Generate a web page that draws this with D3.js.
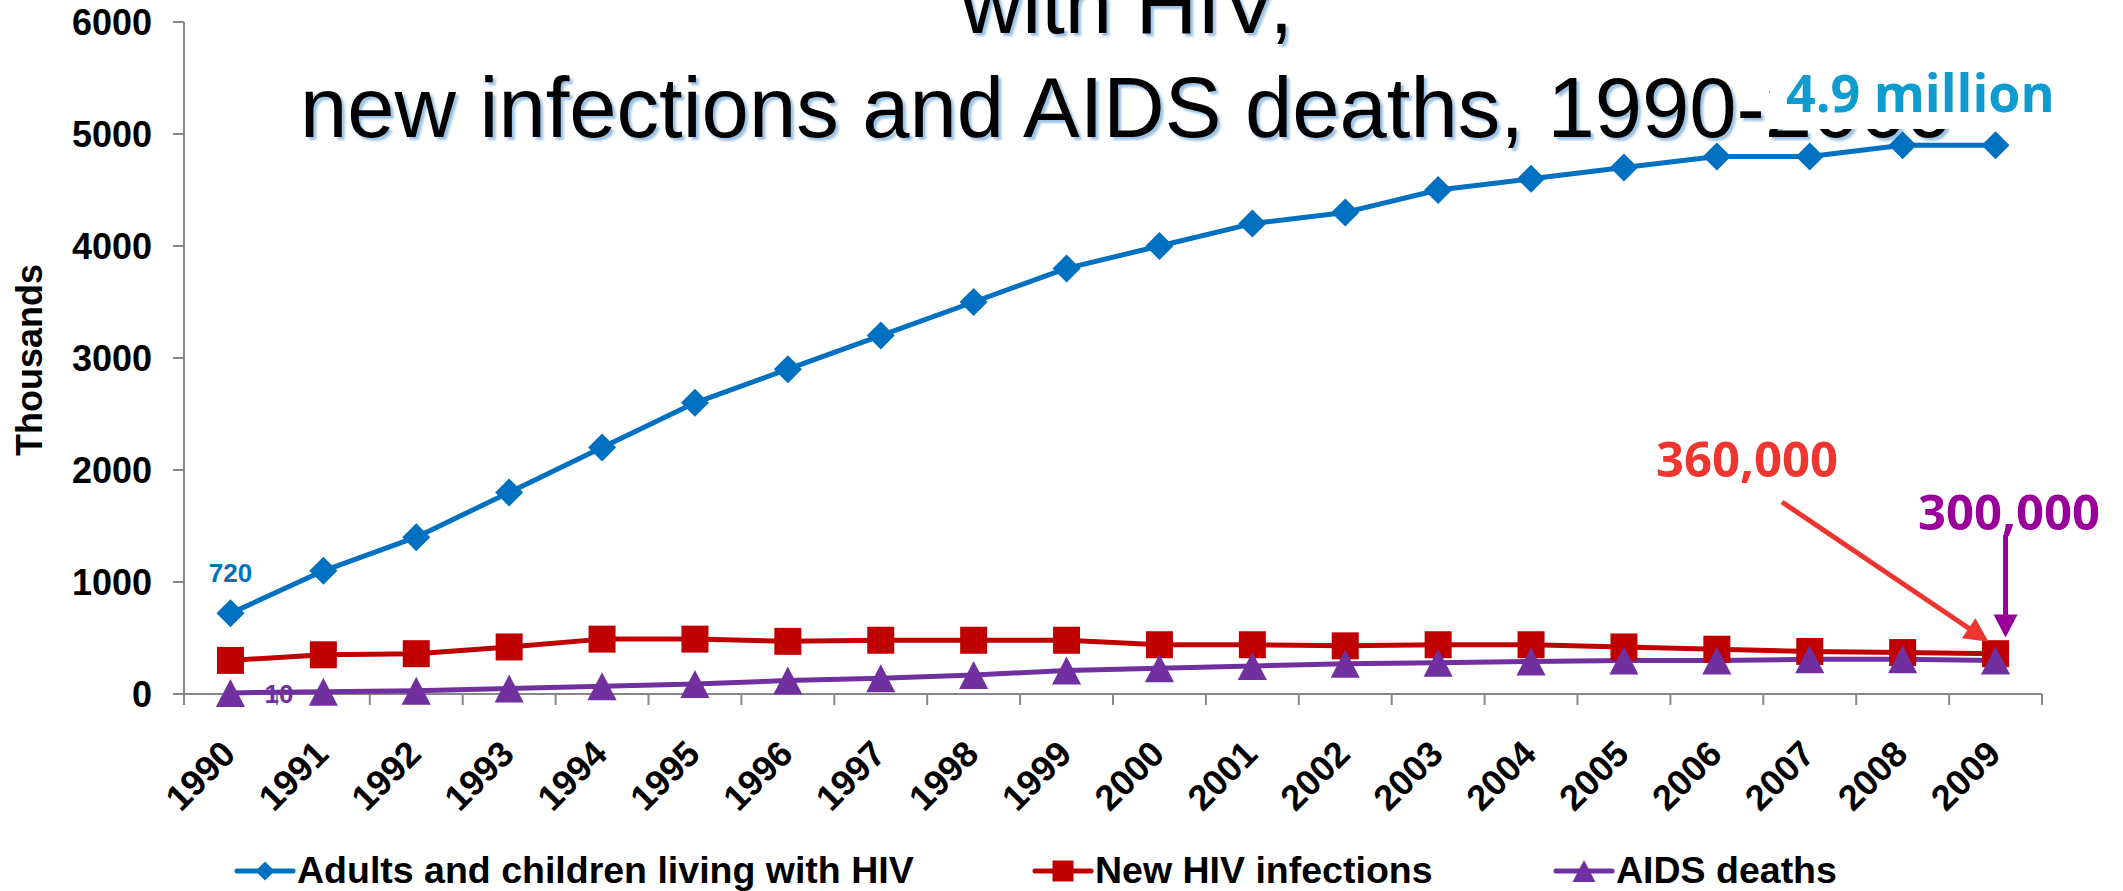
<!DOCTYPE html>
<html>
<head>
<meta charset="utf-8">
<script src="https://cdn.jsdelivr.net/npm/d3@7"></script>
<style>
body { margin: 0; background: #fff; }
svg { display: block; }
</style>
</head>
<body>
<svg></svg>
<script>
// data (thousands)
let years = [1990,1991,1992,1993,1994,1995,1996,1997,1998,1999,2000,2001,2002,2003,2004,2005,2006,2007,2008,2009];
let living = [720,1100,1400,1800,2200,2600,2900,3200,3500,3800,4000,4200,4300,4500,4600,4700,4800,4800,4900,4900];
let newInf = [300,350,360,420,490,490,470,480,480,480,440,440,430,440,440,420,400,380,370,360];
let deaths = [10,20,30,50,70,90,120,140,170,210,230,250,270,280,290,300,300,310,310,300];
let yTicks = [0,1000,2000,3000,4000,5000,6000];
let seriesNames = ["Adults and children living with HIV", "New HIV infections", "AIDS deaths"];
let titleLines = ["with HIV,", "new infections and AIDS deaths, 1990-2009"];

var W = 2123, H = 891;
var sans = "'Liberation Sans', Arial, sans-serif";
var calib = "'Open Sans', sans-serif";

var svg = d3.select("svg").attr("width", W).attr("height", H);

var x = d3.scaleBand().domain(years).range([184, 2042]);
var y = d3.scaleLinear().domain([0, 6000]).range([694, 22]);
var cx = function(yr) { return x(yr) + x.bandwidth() / 2; };

// custom markers
var diamond = { draw: function(c, s) { var r = Math.sqrt(s / 2); c.moveTo(0, -r); c.lineTo(r, 0); c.lineTo(0, r); c.lineTo(-r, 0); c.closePath(); } };
var square = { draw: function(c, s) { var r = Math.sqrt(s) / 2; c.rect(-r, -r, 2 * r, 2 * r); } };
var triangle = { draw: function(c, s) { var r = Math.sqrt(s) / 2; c.moveTo(0, -r); c.lineTo(r * 1.04, r); c.lineTo(-r * 1.04, r); c.closePath(); } };

var series = [
  { name: seriesNames[0], values: living, color: "#0070C0", sym: diamond, size: 2 * 14 * 14, lsize: 2 * 9.5 * 9.5 },
  { name: seriesNames[1], values: newInf, color: "#C00000", sym: square, size: 27 * 27, lsize: 21 * 21 },
  { name: seriesNames[2], values: deaths, color: "#7030A0", sym: triangle, size: 28 * 28, lsize: 22 * 22 }
];
var legendX = [237, 1035, 1556];

// title (behind the chart)
var defs = svg.append("defs");
defs.append("filter").attr("id", "blur").append("feGaussianBlur").attr("stdDeviation", 1.2);

var title = svg.append("g");
[[3, 3, "#9cc3e5", "url(#blur)"], [0, 0, "#000", null]].forEach(function(t) {
  title.selectAll(null)
    .data(titleLines)
    .enter()
    .append("text")
    .attr("x", 1127 + t[0])
    .attr("y", function(d, i) { return 33 + i * 104 + t[1]; })
    .attr("text-anchor", "middle")
    .attr("font-family", sans)
    .attr("font-size", 85)
    .attr("fill", t[2])
    .attr("filter", t[3])
    .text(function(d) { return d; });
});

// axes
var axisColor = "#868686";
svg.append("line")
  .attr("x1", x.range()[0]).attr("x2", x.range()[0])
  .attr("y1", y(6000)).attr("y2", y(0))
  .attr("stroke", axisColor).attr("stroke-width", 2);

svg.selectAll(".ytick")
  .data(yTicks)
  .enter()
  .append("line")
  .attr("x1", x.range()[0] - 11).attr("x2", x.range()[0])
  .attr("y1", function(d) { return y(d); }).attr("y2", function(d) { return y(d); })
  .attr("stroke", axisColor).attr("stroke-width", 2);

svg.selectAll(".ylab")
  .data(yTicks)
  .enter()
  .append("text")
  .attr("x", 152)
  .attr("y", function(d) { return y(d) + 13; })
  .attr("text-anchor", "end")
  .attr("font-family", sans)
  .attr("font-weight", "bold")
  .attr("font-size", 36)
  .text(function(d) { return d; });

svg.append("line")
  .attr("x1", x.range()[0]).attr("x2", x.range()[1])
  .attr("y1", y(0)).attr("y2", y(0))
  .attr("stroke", axisColor).attr("stroke-width", 2);

svg.selectAll(".xtick")
  .data(years.concat(["end"]))
  .enter()
  .append("line")
  .attr("x1", function(d) { return d === "end" ? x.range()[1] : x(d); })
  .attr("x2", function(d) { return d === "end" ? x.range()[1] : x(d); })
  .attr("y1", y(0)).attr("y2", y(0) + 11)
  .attr("stroke", axisColor).attr("stroke-width", 2);

svg.selectAll(".xlab")
  .data(years)
  .enter()
  .append("text")
  .attr("transform", function(d) { return "translate(" + (cx(d) + 7) + "," + (y(0) + 62) + ") rotate(-45)"; })
  .attr("text-anchor", "end")
  .attr("font-family", sans)
  .attr("font-weight", "bold")
  .attr("font-size", 36)
  .text(function(d) { return d; });

svg.append("text")
  .attr("transform", "translate(42,360) rotate(-90)")
  .attr("text-anchor", "middle")
  .attr("font-family", sans)
  .attr("font-weight", "bold")
  .attr("font-size", 36)
  .text("Thousands");

// lines + markers
var line = d3.line()
  .x(function(d, i) { return cx(years[i]); })
  .y(function(d) { return y(d); });

series.forEach(function(s) {
  svg.append("path")
    .attr("d", line(s.values))
    .attr("fill", "none")
    .attr("stroke", s.color)
    .attr("stroke-width", 5)
    .attr("stroke-linejoin", "round");
});

series.forEach(function(s) {
  svg.selectAll(null)
    .data(s.values)
    .enter()
    .append("path")
    .attr("d", d3.symbol().type(s.sym).size(s.size))
    .attr("transform", function(d, i) { return "translate(" + cx(years[i]) + "," + y(d) + ")"; })
    .attr("fill", s.color);
});

// data labels
svg.append("text")
  .attr("x", cx(1990)).attr("y", y(living[0]) - 31)
  .attr("text-anchor", "middle")
  .attr("font-family", sans).attr("font-weight", "bold").attr("font-size", 26)
  .attr("fill", "#0070C0")
  .text(living[0]);

svg.append("text")
  .attr("x", cx(1990) + 34).attr("y", y(deaths[0]) + 10)
  .attr("font-family", sans).attr("font-weight", "bold").attr("font-size", 26)
  .attr("fill", "#7030A0")
  .text(deaths[0]);

// callouts
svg.append("rect")
  .attr("x", 1770).attr("y", 60).attr("width", 295).attr("height", 69)
  .attr("fill", "#fff");
svg.append("text")
  .attr("x", 1786).attr("y", 112)
  .attr("font-family", calib).attr("font-weight", "bold").attr("font-size", 52)
  .attr("fill", "#0E9BCF")
  .text("4.9 million");

svg.append("text")
  .attr("x", 1656).attr("y", 477)
  .attr("font-family", calib).attr("font-weight", "bold").attr("font-size", 49)
  .attr("fill", "#EE3530")
  .text("360,000");

svg.append("text")
  .attr("x", 1918).attr("y", 530)
  .attr("font-family", calib).attr("font-weight", "bold").attr("font-size", 49)
  .attr("fill", "#990099")
  .text("300,000");

function arrow(x1, y1, x2, y2, color, w, hl, hw) {
  var dx = x2 - x1, dy = y2 - y1, len = Math.sqrt(dx * dx + dy * dy);
  var ux = dx / len, uy = dy / len;
  var bx = x2 - ux * hl, by = y2 - uy * hl;
  svg.append("line")
    .attr("x1", x1).attr("y1", y1).attr("x2", bx + ux).attr("y2", by + uy)
    .attr("stroke", color).attr("stroke-width", w);
  svg.append("path")
    .attr("d", "M" + x2 + "," + y2 + "L" + (bx - uy * hw) + "," + (by + ux * hw) + "L" + (bx + uy * hw) + "," + (by - ux * hw) + "Z")
    .attr("fill", color);
}
arrow(1782, 502, cx(2009) - 7, y(newInf[19]) - 12, "#EE3530", 5, 24, 12);
arrow(cx(2009) + 10, 535, cx(2009) + 10, y(deaths[19]) - 23, "#990099", 5, 23, 12);

// legend
var leg = svg.append("g");
series.forEach(function(s, i) {
  var g = leg.append("g").attr("transform", "translate(" + legendX[i] + ",871)");
  g.append("line").attr("x1", 0).attr("x2", 56)
    .attr("stroke", s.color).attr("stroke-width", 5).attr("stroke-linecap", "round");
  g.append("path").attr("d", d3.symbol().type(s.sym).size(s.lsize))
    .attr("transform", "translate(28,0)").attr("fill", s.color);
  g.append("text").attr("x", 60).attr("y", 12)
    .attr("font-family", sans).attr("font-weight", "bold").attr("font-size", 37.5)
    .text(s.name);
});
</script>
</body>
</html>
